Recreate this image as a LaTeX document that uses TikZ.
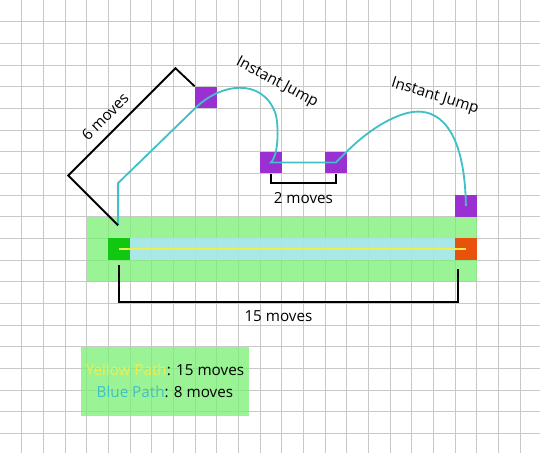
\documentclass[tikz,border=0pt]{standalone}
\usepackage{fontspec}
\setmainfont{Open Sans}
\definecolor{gridgray}{RGB}{200,200,200}
\definecolor{stripgreen}{RGB}{120,240,115}
\definecolor{lanecyan}{RGB}{174,229,252}
\definecolor{startgreen}{RGB}{16,200,16}
\definecolor{goalorange}{RGB}{232,82,12}
\definecolor{portalpurple}{RGB}{155,48,210}
\definecolor{bluepath}{RGB}{64,192,200}
\definecolor{yellowpath}{RGB}{236,238,80}
\tikzset{
  gridline/.style={gridgray, line width=0.5pt},
  cell/.style={rectangle, inner sep=0pt, minimum size=0.5cm, draw=none},
  portal/.style={cell, fill=portalpurple},
  measure/.style={black, line width=1.2pt},
  label/.style={font=\fontsize{10}{12}\selectfont, inner sep=1pt}
}
\begin{document}
\begin{tikzpicture}[x=0.5cm, y=-0.5cm]
    \useasboundingbox (0,0) rectangle (24.92,20.9);
    % Grid
    \foreach \i in {1,...,24} \draw[gridline] (\i,0) -- (\i,20.9);
    \foreach \j in {1,...,20} \draw[gridline] (0,\j) -- (24.92,\j);

    % Areas
    \fill[stripgreen, opacity=0.75] (4,10) rectangle (22,13);
    \fill[lanecyan, opacity=0.8] (6,11) rectangle (21,12);
    \fill[stripgreen, opacity=0.75] (3.75,16) rectangle (11.5,19.2);

    % Squares
    \node[cell, fill=startgreen] (start) at (5.5,11.5) {};
    \node[cell, fill=goalorange] (goal) at (21.5,11.5) {};
    \node[portal] (pa) at (9.5,4.5) {};
    \node[portal] (pb) at (12.5,7.5) {};
    \node[portal] (pc) at (15.5,7.5) {};
    \node[portal] (pd) at (21.5,9.5) {};
    \coordinate (jumpoff) at (5.45,10.4);

    % Paths
    \draw[yellowpath, line width=1.2pt] (start.center) -- (goal.center);
    \draw[bluepath, line width=1.2pt] (jumpoff) -- ++(0,-1.95) -- (pa.south west)
        .. controls (10.2,3.8) and (12.1,3.6) .. (12.7,5.2)
        .. controls (12.85,5.6) and (12.9,7.1) .. (pb.center)
        -- (pc.center) -- (pc.north east)
        .. controls (17.1,5.9) and (18.4,5.15) .. (19.3,5.15)
        .. controls (20.4,5.15) and (21.45,6.2) .. (pd.center);

    % Counts
    \draw[measure] (jumpoff) -- ++(-2.3,-2.3) -- ++(4.95,-4.95) -- (pa.north west);
    \draw[measure] (pb.south) -- ++(0,0.45) -| (pc.south);
    \draw[measure] (5.5,12.25) -- (5.5,13.92) -- (21.15,13.92) -- (21.15,12.42);

    % Labels
    \node[label, rotate=45] (six) at (4.85,5.38) {6 moves};
    \node[label] (two) at (14,9.16) {2 moves};
    \node[label] (fifteen) at (12.85,14.6) {15 moves};
    \node[label, rotate=-28] (jumpa) at (12.78,3.82) {Instant Jump};
    \node[label, rotate=-17] (jumpb) at (20.07,4.46) {Instant Jump};
    \node[label] (legenda) at (7.61,17.07) {\textcolor{yellowpath}{Yellow Path}: 15 moves};
    \node[label] (legendb) at (7.61,18.07) {\textcolor{bluepath}{Blue Path}: 8 moves};
\end{tikzpicture}
\end{document}
